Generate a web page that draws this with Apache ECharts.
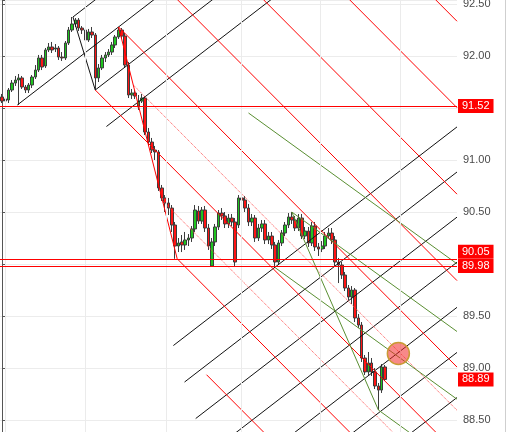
<!DOCTYPE html>
<html><head><meta charset="utf-8">
<script src="https://cdn.jsdelivr.net/npm/echarts/dist/echarts.min.js"></script>
<style>html,body{margin:0;padding:0;background:#fff}#c{width:506px;height:432px}</style>
</head><body><div id="c"></div>
<script>
// ---- data ----
const opens = [91.606,91.567,91.577,91.673,91.740,91.769,91.789,91.702,91.673,91.721,
91.798,91.865,91.981,91.904,92.058,92.087,92.067,92.077,91.990,91.981,
92.125,92.250,92.308,92.346,92.269,92.250,92.154,92.231,92.202,91.789,
91.885,91.981,92.010,92.038,92.106,92.183,92.250,92.192,91.913,91.625,
91.644,91.510,91.567,91.596,91.269,91.173,91.096,91.077,90.731,90.635,
90.587,90.538,90.375,90.173,90.212,90.183,90.231,90.250,90.337,90.510,
90.413,90.519,90.346,89.981,90.212,90.356,90.490,90.462,90.385,90.442,
90.404,90.375,90.635,90.615,90.538,90.404,90.442,90.250,90.346,90.385,
90.231,90.269,90.183,90.019,90.202,90.298,90.375,90.452,90.423,90.346,
90.442,90.269,90.317,90.202,90.365,90.164,90.144,90.173,90.269,90.298,
90.231,90.019,89.990,89.894,89.769,89.683,89.750,89.481,89.413,89.096,
88.962,89.048,88.962,88.827,88.788,89.010];
const closes = [91.567,91.587,91.673,91.740,91.769,91.789,91.702,91.673,91.721,91.798,
91.865,91.981,91.894,92.058,92.087,92.058,92.077,91.990,91.981,92.125,
92.250,92.308,92.346,92.269,92.250,92.154,92.231,92.202,91.789,91.885,
91.981,92.010,92.038,92.106,92.183,92.250,92.192,91.913,91.625,91.644,
91.615,91.567,91.596,91.269,91.173,91.096,91.077,90.731,90.635,90.587,
90.538,90.375,90.173,90.202,90.183,90.231,90.250,90.337,90.519,90.413,
90.519,90.346,90.173,90.212,90.356,90.490,90.462,90.385,90.442,90.404,
90.019,90.635,90.615,90.538,90.404,90.442,90.250,90.346,90.385,90.231,
90.269,90.183,90.019,90.202,90.298,90.375,90.452,90.423,90.346,90.442,
90.269,90.317,90.202,90.365,90.164,90.144,90.173,90.269,90.298,90.231,
90.019,89.990,89.894,89.769,89.683,89.750,89.481,89.413,89.096,88.962,
89.048,88.962,88.827,88.788,89.010,88.890];
const lows = [91.548,91.538,91.548,91.654,91.712,91.529,91.683,91.644,91.644,91.692,
91.779,91.846,91.865,91.885,92.038,92.029,92.038,91.962,91.952,91.962,
92.106,92.231,92.279,92.240,92.212,92.125,92.135,92.173,91.673,91.750,
91.865,91.942,91.990,92.010,92.077,92.164,92.164,91.885,91.596,91.587,
91.587,91.481,91.548,91.240,91.135,91.067,91.000,90.702,90.606,90.500,
90.471,90.308,90.050,90.115,90.115,90.135,90.173,90.212,90.308,90.385,
90.385,90.308,90.135,89.975,90.173,90.327,90.423,90.346,90.346,90.365,
89.981,90.346,90.587,90.500,90.365,90.365,90.212,90.221,90.308,90.192,
90.192,90.144,89.965,89.990,90.173,90.269,90.346,90.385,90.317,90.317,
90.240,90.240,90.164,90.173,90.125,90.077,90.115,90.144,90.250,90.192,
89.981,89.817,89.856,89.740,89.654,89.615,89.442,89.385,89.058,88.933,
88.933,88.923,88.798,88.596,88.760,88.875];
const highs = [91.635,91.615,91.692,91.769,91.808,91.827,91.808,91.721,91.740,91.817,
91.913,92.010,92.010,92.077,92.125,92.135,92.115,92.096,92.038,92.144,
92.279,92.375,92.365,92.365,92.288,92.269,92.260,92.279,92.221,91.923,
92.010,92.038,92.067,92.135,92.202,92.279,92.269,92.221,91.942,91.683,
91.673,91.625,91.635,91.615,91.308,91.212,91.135,91.096,90.760,90.663,
90.635,90.567,90.404,90.250,90.279,90.308,90.288,90.365,90.567,90.558,
90.548,90.558,90.385,90.250,90.385,90.519,90.538,90.500,90.481,90.481,
90.442,90.663,90.760,90.654,90.577,90.481,90.471,90.385,90.423,90.423,
90.308,90.308,90.212,90.231,90.327,90.404,90.490,90.500,90.462,90.481,
90.481,90.356,90.356,90.404,90.404,90.202,90.221,90.308,90.346,90.346,
90.269,90.058,90.019,89.923,89.798,89.788,89.769,89.519,89.442,89.125,
89.154,89.096,88.999,88.856,89.038,89.029];

// horizontal levels and last price
const hLevels = [91.52, 90.05, 89.98];
const lastPrice = 88.89;
// day separators (bar index)
const dayBreaks = [0.9, 24.9, 49.2, 71.8, 95.5, 119.5];
// y axis ticks
const yTickMin = 88.0, yTickStep = 0.5;

// pitchfork pivots [barIndex, price]
const blackPivots = [[4.6, 91.529], [21.3, 92.375], [28, 91.673]];
const redPivots   = [[28, 91.673], [35, 92.279], [52.6, 90.05]];
const greenPivots = [[82, 89.965], [87, 90.5], [113, 88.596]];
const blackLevels = [-1, 0, 1, 2, 8, 9, 10, 11, 12, 13, 14];
const redLevels = [-5, -4, -3, -2, -1, -0.5, 0, 0.5, 1, 2];
const greenLevels = [-2, -1, 0, 1];
const marker = [119, 89.14];

const xMin = -0.6, xMax = 136.6;

function fork(p, levels) {
  const [p0, p1, p2] = p;
  const m = [(p1[0] + p2[0]) / 2, (p1[1] + p2[1]) / 2];
  const dir = [m[0] - p0[0], m[1] - p0[1]];
  const d = [p2[0] - m[0], p2[1] - m[1]];
  return levels.map(k => {
    const s = k === 0 ? p0 : [m[0] + k * d[0], m[1] + k * d[1]];
    const t = (xMax - s[0]) / dir[0];
    return { k, pts: [s, [xMax, s[1] + t * dir[1]]] };
  }).concat([{ k: 'c', pts: [p1, p2] }]);
}

const series = [];
// vertical day grid lines
series.push({
  type: 'line', data: [], silent: true, z: 1, animation: false,
  markLine: { silent: true, symbol: ['none', 'none'], label: { show: false },
    lineStyle: { color: '#ebebeb', width: 1, type: 'solid' },
    data: dayBreaks.map(v => ({ xAxis: v })) }
});
// candles
series.push({
  type: 'candlestick', z: 2, animation: false, barWidth: 3,
  data: opens.map((o, i) => [i, o, closes[i], lows[i], highs[i]]),
  encode: { x: 0, y: [1, 2, 3, 4] },
  itemStyle: { color: '#1fc41f', color0: '#ff1414', borderColor: '#3c3c3c', borderColor0: '#3c3c3c', borderWidth: 1 }
});

function addFork(p, levels, color, dottedSet) {
  fork(p, levels).forEach(l => {
    const dotted = dottedSet.indexOf(l.k) >= 0;
    series.push({
      type: 'line', data: l.pts, symbol: 'none', showSymbol: false, silent: true, z: 3,
      animation: false, clip: true,
      lineStyle: { color: dotted ? '#ff5050' : color, width: 1, type: dotted ? [1, 1] : 'solid' }
    });
  });
}
addFork(blackPivots, blackLevels, '#111111', []);
addFork(redPivots, redLevels, '#ff0000', [-0.5, 0.5]);
addFork(greenPivots, greenLevels, '#5a8f32', []);

// horizontal lines and price labels
const boxLabel = (extra) => Object.assign({
  show: true, position: 'end', distance: 1, formatter: p => p.value.toFixed(2),
  backgroundColor: '#ff0000', color: '#ffffff', fontSize: 11,
  fontFamily: 'Liberation Sans, Arial, sans-serif', padding: [2, 4, 1, 4]
}, extra || {});
series.push({
  type: 'line', data: [], silent: true, z: 4, animation: false,
  markLine: { silent: true, symbol: ['none', 'none'], animation: false,
    lineStyle: { color: '#ff0000', width: 1, type: 'solid' },
    data: [
      { yAxis: hLevels[0], label: boxLabel() },
      { yAxis: hLevels[1], label: boxLabel({ verticalAlign: 'bottom' }) },
      { yAxis: hLevels[2], label: boxLabel() },
      { yAxis: lastPrice, label: boxLabel(), lineStyle: { color: 'rgba(0,0,0,0)', width: 0 } }
    ] }
});
// circle marker
series.push({
  type: 'scatter', data: [marker], symbolSize: 22, z: 5, silent: true, animation: false,
  itemStyle: { color: 'rgba(242,40,40,0.55)', borderColor: '#c99a35', borderWidth: 1.5, opacity: 1 }
});

const chart = echarts.init(document.getElementById('c'), null, { renderer: 'canvas' });
chart.setOption({
  animation: false,
  backgroundColor: '#ffffff',
  grid: { left: 0, right: 49, top: 0, bottom: -40, containLabel: false, outerBoundsMode: 'none' },
  xAxis: { type: 'value', min: xMin, max: xMax, show: false },
  yAxis: {
    type: 'value', position: 'right', min: yTickMin, max: 92.5385, interval: yTickStep,
    axisLine: { show: true, lineStyle: { color: '#555555' } },
    axisTick: { show: true, length: 4, lineStyle: { color: '#555555' } },
    axisLabel: { color: '#4a4a4a', fontSize: 11, margin: 6, fontFamily: 'Liberation Sans, Arial, sans-serif',
      formatter: v => Math.abs(v / yTickStep - Math.round(v / yTickStep)) < 1e-6 ? v.toFixed(2) : '' },
    splitLine: { show: true, lineStyle: { color: '#ececec' } }
  },
  graphic: [{ type: 'line', silent: true, shape: { x1: 505.5, y1: 0, x2: 505.5, y2: 432 }, style: { stroke: '#cfcfcf', lineWidth: 1 } }],
  series: series
});
</script></body></html>
